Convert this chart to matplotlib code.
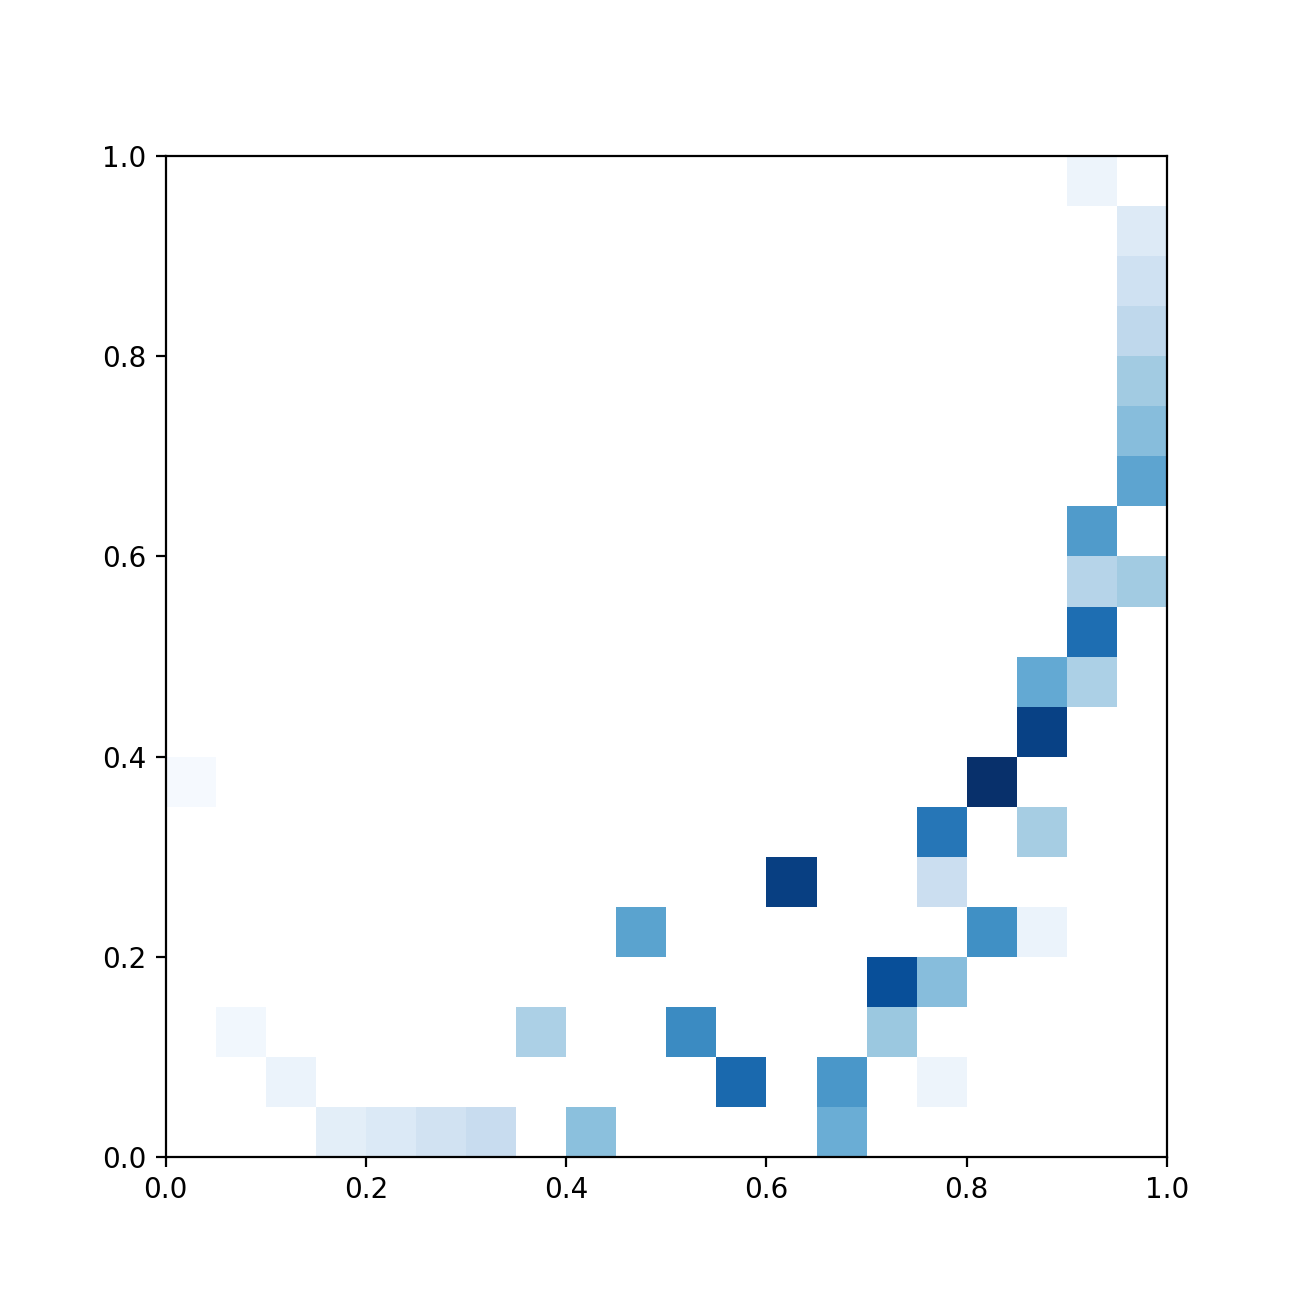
import numpy as np
import matplotlib
matplotlib.use("Agg")
import matplotlib.pyplot as plt

# filled cells of a 20x20 grid: column index, row index (from bottom), intensity
col_idx = [0, 1, 2, 3, 4, 5, 6, 7, 8, 9, 10, 11, 12, 13, 13, 14, 14, 15, 15, 15, 15,
           16, 16, 17, 17, 17, 17, 18, 18, 18, 18, 18, 19, 19, 19, 19, 19, 19, 19]
row_idx = [7, 2, 1, 0, 0, 0, 0, 2, 0, 4, 2, 1, 5, 1, 0, 2, 3, 3, 1, 5, 6,
           4, 7, 4, 6, 8, 9, 9, 10, 11, 12, 19, 11, 13, 14, 15, 16, 17, 18]
values = [0.01, 0.03, 0.06, 0.10, 0.14, 0.19, 0.24, 0.33, 0.42, 0.55, 0.65, 0.78, 0.94, 0.60, 0.50, 0.38, 0.88, 0.43, 0.05, 0.22, 0.73,
          0.63, 1.00, 0.06, 0.35, 0.93, 0.52, 0.33, 0.76, 0.30, 0.58, 0.05, 0.36, 0.54, 0.43, 0.36, 0.27, 0.20, 0.13]

n = 20
grid = np.full((n, n), np.nan)
for c, r, v in zip(col_idx, row_idx, values):
    grid[r, c] = v

fig, ax = plt.subplots(figsize=(6.5, 6.5), dpi=200)
ax.imshow(np.ma.masked_invalid(grid), cmap="Blues", vmin=0, vmax=1,
          origin="lower", extent=[0, 1, 0, 1], interpolation="nearest")
ax.set_xlim(0, 1)
ax.set_ylim(0, 1)
fig.savefig("out.png")
